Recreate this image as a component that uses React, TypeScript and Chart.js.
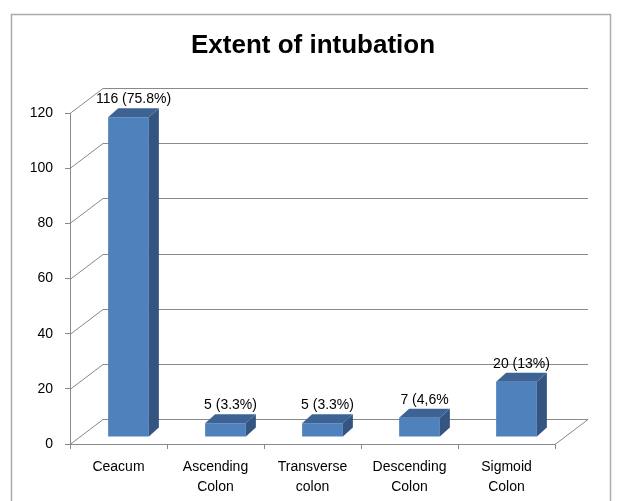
import React, { useEffect, useRef } from "react";
import { Chart, registerables } from "chart.js";

Chart.register(...registerables);

const categories: (string | string[])[] = [
  "Ceacum",
  ["Ascending", "Colon"],
  ["Transverse", "colon"],
  ["Descending", "Colon"],
  ["Sigmoid", "Colon"],
];
const values: number[] = [116, 5, 5, 7, 20];
const valueLabels: string[] = ["116 (75.8%)", "5 (3.3%)", "5 (3.3%)", "7 (4,6%", "20 (13%)"];
const yTickMin = 0;
const yTickMax = 120;
const yTickStep = 20;

const FONT = "'Liberation Sans', Arial, sans-serif";
const GRID = "#898989";
// wall depth
const WDX = 33;
const WDY = -25;
// bar front offset and bar depth
const BOX = 10;
const BOY = -7;
const BDX = 10;
const BDY = -9;

const threeD = {
  id: "threeD",
  beforeDraw(chart: any) {
    const ctx = chart.ctx;
    ctx.save();
    ctx.fillStyle = "#ffffff";
    ctx.fillRect(0, 0, chart.width, chart.height);
    ctx.strokeStyle = "#ABABAB";
    ctx.lineWidth = 1.5;
    ctx.strokeRect(11.5, 14.5, 599, 520);
    ctx.restore();
  },
  beforeDatasetsDraw(chart: any) {
    const ctx = chart.ctx;
    const y = chart.scales.y;
    const { left, right, bottom } = chart.chartArea;
    ctx.save();
    ctx.strokeStyle = GRID;
    ctx.lineWidth = 1;
    ctx.beginPath();
    y.ticks.forEach((t: any) => {
      const py = Math.round(y.getPixelForValue(t.value)) + 0.5;
      ctx.moveTo(left, py);
      ctx.lineTo(left + WDX, py + WDY);
      ctx.lineTo(right + WDX, py + WDY);
    });
    const pb = Math.round(bottom) + 0.5;
    ctx.moveTo(right, pb);
    ctx.lineTo(right + WDX, pb + WDY);
    ctx.stroke();
    ctx.restore();
    ctx.save();
    ctx.translate(BOX, BOY);
  },
  afterDatasetsDraw(chart: any) {
    const ctx = chart.ctx;
    ctx.restore();
    const meta = chart.getDatasetMeta(0);
    ctx.save();
    meta.data.forEach((bar: any, i: number) => {
      const p = bar.getProps(["x", "y", "base", "width"], true);
      const l = p.x - p.width / 2 + BOX;
      const r = p.x + p.width / 2 + BOX;
      const t = p.y + BOY;
      const b = p.base + BOY;
      // side
      ctx.fillStyle = "#34557F";
      ctx.beginPath();
      ctx.moveTo(r, t);
      ctx.lineTo(r + BDX, t + BDY);
      ctx.lineTo(r + BDX, b + BDY);
      ctx.lineTo(r, b);
      ctx.closePath();
      ctx.fill();
      // top
      ctx.fillStyle = "#3D6394";
      ctx.beginPath();
      ctx.moveTo(l, t);
      ctx.lineTo(l + BDX, t + BDY);
      ctx.lineTo(r + BDX, t + BDY);
      ctx.lineTo(r, t);
      ctx.closePath();
      ctx.fill();
      // label
      ctx.fillStyle = "#000";
      ctx.font = `14px ${FONT}`;
      ctx.textAlign = "center";
      ctx.textBaseline = "alphabetic";
      ctx.fillText(valueLabels[i], (l + r) / 2 + BDX / 2, t + BDY - 5);
    });
    ctx.restore();
  },
};

export default function App() {
  const ref = useRef<HTMLCanvasElement | null>(null);
  useEffect(() => {
    if (!ref.current) return;
    Chart.defaults.font.family = FONT;
    const chart = new Chart(ref.current, {
      type: "bar",
      data: {
        labels: categories,
        datasets: [
          {
            data: values,
            backgroundColor: "#4F81BD",
            borderWidth: 0,
            barPercentage: 0.42,
            categoryPercentage: 1,
          },
        ],
      },
      options: {
        responsive: false,
        animation: false,
        layout: { padding: { left: 8, right: 0, top: 0, bottom: 0 } },
        plugins: {
          legend: { display: false },
          tooltip: { enabled: false },
          title: {
            display: true,
            text: "Extent of intubation",
            color: "#000",
            font: { size: 26, weight: "bold", family: FONT },
            padding: { top: 30, bottom: 52 },
          },
        },
        scales: {
          x: {
            offset: true,
            grid: {
              display: true,
              drawOnChartArea: false,
              drawTicks: true,
              tickLength: 5,
              offset: true,
              color: GRID,
            },
            border: { display: true, color: GRID },
            ticks: { color: "#000", font: { size: 14, lineHeight: 1.45 }, padding: 8, maxRotation: 0, autoSkip: false },
            afterFit: (s: any) => {
              s.height = 57;
            },
          },
          y: {
            min: yTickMin,
            max: yTickMax,
            grid: { display: true, drawOnChartArea: false, drawTicks: true, tickLength: 5, color: GRID },
            border: { display: true, color: GRID },
            ticks: { stepSize: yTickStep, color: "#000", font: { size: 14 }, padding: 12 },
            afterFit: (s: any) => {
              s.width = 62;
            },
          },
          yRight: {
            type: "linear",
            position: "right",
            min: yTickMin,
            max: yTickMax,
            grid: { display: false },
            border: { display: false },
            ticks: { display: false },
            afterFit: (s: any) => {
              s.width = 63;
            },
          },
        },
      },
      plugins: [threeD],
    });
    return () => chart.destroy();
  }, []);
  return (
    <div style={{ position: "absolute", left: 0, top: 0, width: 618, height: 501 }}>
      <canvas ref={ref} width={618} height={501} style={{ display: "block" }} />
    </div>
  );
}
